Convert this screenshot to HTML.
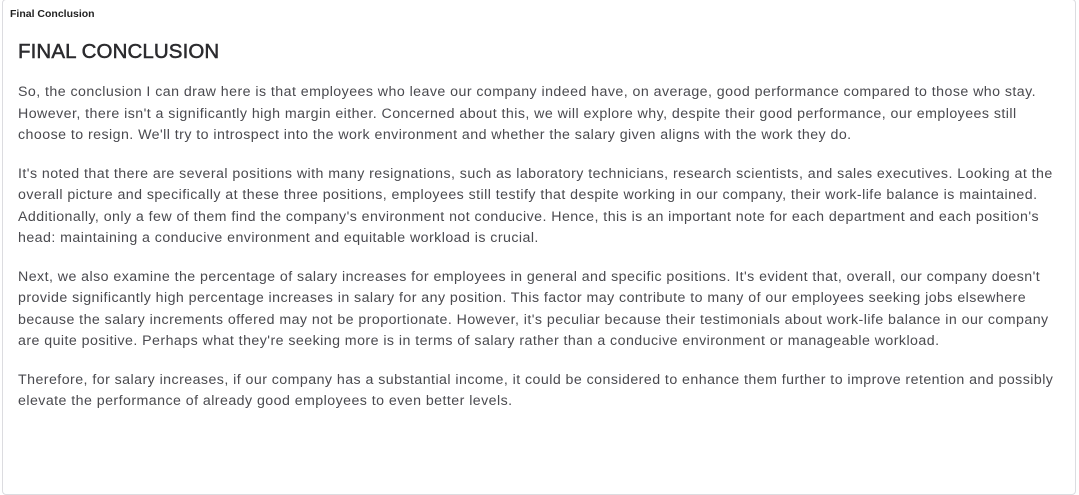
<!DOCTYPE html>
<html><head><meta charset="utf-8"><style>
html,body{margin:0;padding:0;background:#fff;width:1079px;height:493px;overflow:hidden;font-family:"Liberation Sans",sans-serif}
.panel{position:absolute;left:2px;top:-1px;width:1074px;height:496px;border:1px solid #dcdce0;border-radius:4px;box-sizing:border-box}
.title{position:absolute;left:10px;top:8px;font-size:10.5px;font-weight:bold;color:#222}
h1{position:absolute;left:18px;top:40px;margin:0;font-size:20.5px;font-weight:normal;color:#2b2b2e;letter-spacing:0.1px;-webkit-text-stroke:0.5px #2b2b2e}
.body{position:absolute;left:18px;top:82px;font-size:14.2px;line-height:21.5px;color:#4a4a4f;white-space:nowrap;letter-spacing:0.45px}
p{margin:0 0 17px 0}
</style></head><body>
<div class="panel"></div>
<div class="title">Final Conclusion</div>
<h1>FINAL CONCLUSION</h1>
<div class="body">
<p>So, the conclusion I can draw here is that employees who leave our company indeed have, on average, good performance compared to those who stay.<br>However, there isn't a significantly high margin either. Concerned about this, we will explore why, despite their good performance, our employees still<br>choose to resign. We'll try to introspect into the work environment and whether the salary given aligns with the work they do.</p>
<p>It's noted that there are several positions with many resignations, such as laboratory technicians, research scientists, and sales executives. Looking at the<br>overall picture and specifically at these three positions, employees still testify that despite working in our company, their work-life balance is maintained.<br>Additionally, only a few of them find the company's environment not conducive. Hence, this is an important note for each department and each position's<br>head: maintaining a conducive environment and equitable workload is crucial.</p>
<p>Next, we also examine the percentage of salary increases for employees in general and specific positions. It's evident that, overall, our company doesn't<br>provide significantly high percentage increases in salary for any position. This factor may contribute to many of our employees seeking jobs elsewhere<br>because the salary increments offered may not be proportionate. However, it's peculiar because their testimonials about work-life balance in our company<br>are quite positive. Perhaps what they're seeking more is in terms of salary rather than a conducive environment or manageable workload.</p>
<p>Therefore, for salary increases, if our company has a substantial income, it could be considered to enhance them further to improve retention and possibly<br>elevate the performance of already good employees to even better levels.</p>
</div>
</body></html>
